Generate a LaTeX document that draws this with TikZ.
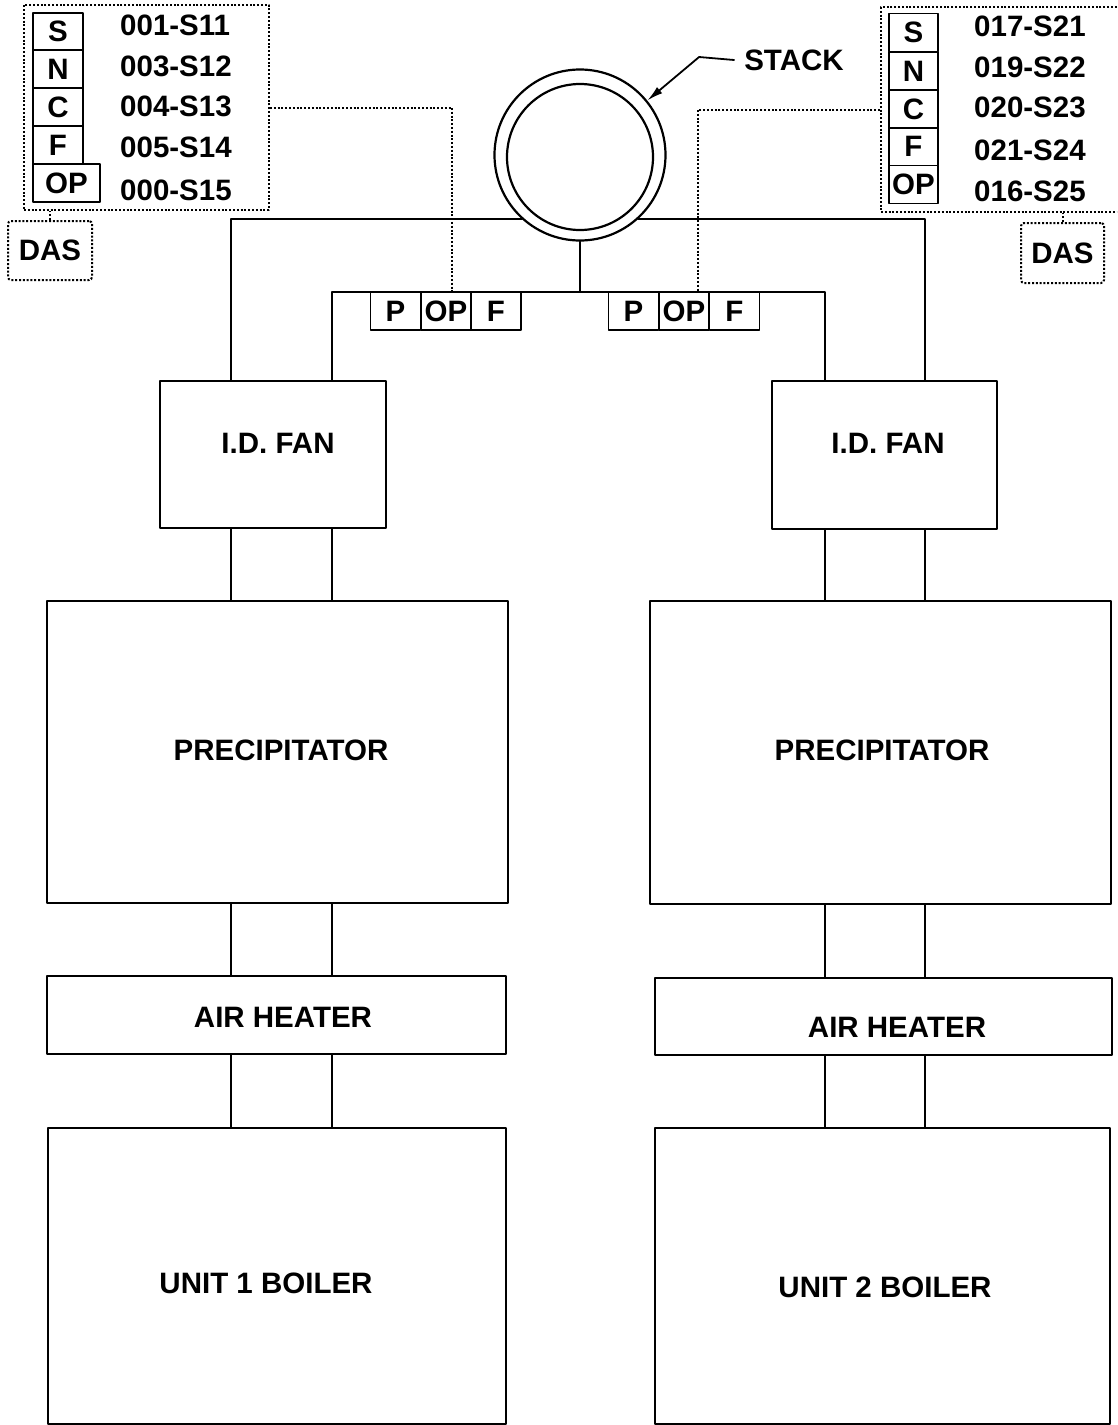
\documentclass[tikz,border=0pt]{standalone}
\usepackage{fontspec}
\setmainfont{Liberation Sans}
\usetikzlibrary{arrows.meta}
\begin{document}
\begin{tikzpicture}[x=1pt,y=-1pt,line cap=round,line join=round,
  txt/.style={font=\fontsize{29.5}{34}\selectfont\bfseries,inner sep=0pt},
  unit/.style={draw,line width=2.2pt,inner sep=0pt,anchor=north west},
  cell/.style={draw,line width=1.8pt,inner sep=0pt,minimum width=50pt,minimum height=38pt,txt},
  duct/.style={line width=1.8pt},
  sig/.style={line width=2pt,dash pattern=on 2pt off 1.8pt,line cap=butt}]
\useasboundingbox (0,0) rectangle (1117,1425);\clip (0,0) rectangle (1117,1425);
\coordinate (xa) at (231,0);\coordinate (xb) at (332,0);\coordinate (xc) at (825,0);\coordinate (xd) at (925,0);
\coordinate (hub) at (580,292);\coordinate (tapL) at (452,292);\coordinate (tapR) at (698,292);
% stack
\node[circle,draw,line width=2.2pt,minimum size=171pt,inner sep=0pt] (stack) at (580,155) {};
\node[circle,draw,line width=2.2pt,minimum size=146pt,inner sep=0pt] (stackin) at (580,157) {};
\node[txt,inner xsep=10pt] (stackt) at (794,60) {STACK};
\draw[line width=1.8pt,-{Latex[length=16pt,width=8pt]}] (stackt.west) -- ++(-35,-3) -- (stack.39);
% units
\node[unit,minimum width=226pt,minimum height=147pt] (fanL) at (159,380) {};\node[txt] (fanLt) at (278,443) {I.D. FAN};
\node[unit,minimum width=461pt,minimum height=302pt] (precL) at (46,600) {};\node[txt] (precLt) at (281,750) {PRECIPITATOR};
\node[unit,minimum width=459pt,minimum height=78pt] (heatL) at (46,975) {};\node[txt] (heatLt) at (283,1017) {AIR HEATER};
\node[unit,minimum width=458pt,minimum height=296pt] (boilL) at (47,1127) {};\node[txt] (boilLt) at (266,1283) {UNIT 1 BOILER};
\node[unit,minimum width=225pt,minimum height=148pt] (fanR) at (771,380) {};\node[txt] (fanRt) at (888,443) {I.D. FAN};
\node[unit,minimum width=461pt,minimum height=303pt] (precR) at (649,600) {};\node[txt] (precRt) at (882,750) {PRECIPITATOR};
\node[unit,minimum width=457pt,minimum height=77pt] (heatR) at (654,977) {};\node[txt] (heatRt) at (897,1027) {AIR HEATER};
\node[unit,minimum width=455pt,minimum height=296pt] (boilR) at (654,1127) {};\node[txt] (boilRt) at (885,1287) {UNIT 2 BOILER};
% ducts
\draw[duct] (stack.228) -| (xa |- fanL.north);\draw[duct] (stack.312) -| (xd |- fanR.north);
\draw[duct] (stack.south) -- (hub);\draw[duct] (xb |- fanL.north) |- (hub) -| (xc |- fanR.north);
\foreach \c in {xa,xb}{\draw[duct] (\c |- fanL.south) -- (\c |- precL.north);\draw[duct] (\c |- precL.south) -- (\c |- heatL.north);\draw[duct] (\c |- heatL.south) -- (\c |- boilL.north);}
\foreach \c in {xc,xd}{\draw[duct] (\c |- fanR.south) -- (\c |- precR.north);\draw[duct] (\c |- precR.south) -- (\c |- heatR.north);\draw[duct] (\c |- heatR.south) -- (\c |- boilR.north);}
% probes
\foreach \t/\x in {P/395.5,OP/446,F/496}{\node[cell] (pL\t) at (\x,311) {\t};}
\foreach \t/\x in {P/633.5,OP/684,F/734.5}{\node[cell] (pR\t) at (\x,311) {\t};}
% monitor panels
\node[sig,draw,minimum width=245pt,minimum height=205pt,inner sep=0pt] (panelL) at (146.5,107.5) {};
\node[sig,draw,minimum width=249pt,minimum height=205pt,inner sep=0pt] (panelR) at (1005.5,109.5) {};
\foreach \t/\y in {S/31.5,N/69,C/107,F/145}{\node[cell,minimum height=37.5pt] (aL\t) at (58,\y) {\t};}
\node[cell,minimum width=67pt] (aLOP) at (66.5,183) {OP};
\foreach \t/\y in {S/32.5,N/71,C/109,F/146.5}{\node[cell,minimum width=49pt] (aR\t) at (913.5,\y) {\t};}
\node[cell,minimum width=49pt] (aROP) at (913.5,184.5) {OP};
\foreach \s/\y [count=\i] in {001-S11/25,003-S12/66,004-S13/106,005-S14/147,000-S15/190}{\node[txt,anchor=west] (cL\i) at (120,\y) {\s};}
\foreach \s/\y [count=\i] in {017-S21/26,019-S22/67,020-S23/107,021-S24/150,016-S25/191}{\node[txt,anchor=west] (cR\i) at (974,\y) {\s};}
\node[sig,draw,rounded corners=3pt,minimum width=84pt,minimum height=59pt,txt] (dasL) at (50,250.5) {DAS};
\node[sig,draw,rounded corners=3pt,minimum width=83pt,minimum height=60pt,txt] (dasR) at (1062.5,253) {DAS};
\draw[sig] (dasL.north) -- (dasL.north |- panelL.south);\draw[sig] (dasR.north) -- (dasR.north |- panelR.south);
\draw[sig] (panelL.east) -| (tapL);\draw[sig] (panelR.west) -| (tapR);
\end{tikzpicture}
\end{document}
